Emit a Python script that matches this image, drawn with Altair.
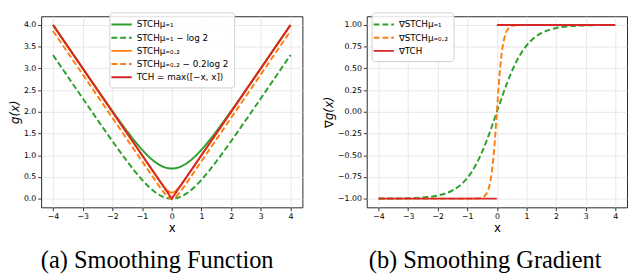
import altair as alt
import pandas as pd

# ---- data ----
x_mu1 = [-4, -3.5, -3, -2.5, -2, -1.5, -1.25, -1, -0.75, -0.5, -0.25, 0,
         0.25, 0.5, 0.75, 1, 1.25, 1.5, 2, 2.5, 3, 3.5, 4]
g_mu1 = [4.0003, 3.5009, 3.0025, 2.5067, 2.0181, 1.5486, 1.3289, 1.1269, 0.9514, 0.8133, 0.7241, 0.6931,
         0.7241, 0.8133, 0.9514, 1.1269, 1.3289, 1.5486, 2.0181, 2.5067, 3.0025, 3.5009, 4.0003]
g_mu1_shift = [3.3072, 2.8078, 2.3094, 1.8136, 1.3250, 0.8555, 0.6358, 0.4338, 0.2583, 0.1202, 0.0310, 0.0,
               0.0310, 0.1202, 0.2583, 0.4338, 0.6358, 0.8555, 1.3250, 1.8136, 2.3094, 2.8078, 3.3072]
d_mu1 = [-0.9993, -0.9982, -0.9951, -0.9866, -0.9640, -0.9051, -0.8483, -0.7616, -0.6351, -0.4621, -0.2449, 0.0,
         0.2449, 0.4621, 0.6351, 0.7616, 0.8483, 0.9051, 0.9640, 0.9866, 0.9951, 0.9982, 0.9993]

x_mu02 = [-4, -3, -2, -1, -0.6, -0.5, -0.4, -0.3, -0.2, -0.15, -0.1, -0.05, 0,
          0.05, 0.1, 0.15, 0.2, 0.3, 0.4, 0.5, 0.6, 1, 2, 3, 4]
g_mu02 = [4.0, 3.0, 2.0, 1.0, 0.6005, 0.5013, 0.4036, 0.3097, 0.2254, 0.1903, 0.1627, 0.1448, 0.1386,
          0.1448, 0.1627, 0.1903, 0.2254, 0.3097, 0.4036, 0.5013, 0.6005, 1.0, 2.0, 3.0, 4.0]
g_mu02_shift = [3.8614, 2.8614, 1.8614, 0.8614, 0.4619, 0.3627, 0.2650, 0.1711, 0.0868, 0.0517, 0.0241, 0.0062, 0.0,
                0.0062, 0.0241, 0.0517, 0.0868, 0.1711, 0.2650, 0.3627, 0.4619, 0.8614, 1.8614, 2.8614, 3.8614]
d_mu02 = [-1.0, -1.0, -1.0, -0.9999, -0.9951, -0.9866, -0.9640, -0.9051, -0.7616, -0.6351, -0.4621, -0.2449, 0.0,
          0.2449, 0.4621, 0.6351, 0.7616, 0.9051, 0.9640, 0.9866, 0.9951, 0.9999, 1.0, 1.0, 1.0]

x_tch = [-4, 0, 4]
g_tch = [4.0, 0.0, 4.0]

x_dtch = [-4, 0, 0, 4]
d_tch = [-1.0, -1.0, 1.0, 1.0]
seg_dtch = ["a", "a", "b", "b"]

left_labels = ["STCHμ₌₁", "STCHμ₌₁ − log 2", "STCHμ₌₀.₂", "STCHμ₌₀.₂ − 0.2log 2", "TCH = max([−x, x])"]
right_labels = ["∇STCHμ₌₁", "∇STCHμ₌₀.₂", "∇TCH"]
x_ticks = [-4, -3, -2, -1, 0, 1, 2, 3, 4]
g_ticks = [0.0, 0.5, 1.0, 1.5, 2.0, 2.5, 3.0, 3.5, 4.0]
d_ticks = [-1.0, -0.75, -0.5, -0.25, 0.0, 0.25, 0.5, 0.75, 1.0]
captions = ["(a) Smoothing Function", "(b) Smoothing Gradient"]

GREEN, ORANGE, RED = "#2ca02c", "#ff7f0e", "#d62728"
SOLID, DASH = [1, 0], [6, 3]

# ---- tables ----
def frame(xs, ys, label, seg=None):
    df = pd.DataFrame({"x": xs, "y": ys, "series": label})
    df["seg"] = seg if seg is not None else "a"
    return df

left_df = pd.concat([
    frame(x_mu1, g_mu1, left_labels[0]),
    frame(x_mu1, g_mu1_shift, left_labels[1]),
    frame(x_mu02, g_mu02, left_labels[2]),
    frame(x_mu02, g_mu02_shift, left_labels[3]),
    frame(x_tch, g_tch, left_labels[4]),
], ignore_index=True)

right_df = pd.concat([
    frame(x_mu1, d_mu1, right_labels[0]),
    frame(x_mu02, d_mu02, right_labels[1]),
    frame(x_dtch, d_tch, right_labels[2], seg_dtch),
], ignore_index=True)

xscale = alt.Scale(domain=[-4.4, 4.4], nice=False, zero=False)
xaxis = alt.Axis(values=x_ticks, format="d", title="x", titleFontStyle="normal")


def legend(x, y):
    return alt.Legend(title=None, orient="none", legendX=x, legendY=y,
                      symbolType="M-1.6,0H1.6", symbolSize=169, symbolStrokeWidth=2,
                      labelFont="DejaVu Sans", labelFontSize=9, labelColor="black",
                      labelLimit=300, labelOffset=8, rowPadding=0.5, padding=5,
                      strokeColor="#d0d0d0", fillColor="rgba(255,255,255,0.85)",
                      cornerRadius=3)


def panel(df, labels, colors, dashes, interps, ydom, yticks, yfmt, ytitle, leg, w, h, caption, dx):
    layers = []
    for lab, interp in zip(labels, interps):
        layers.append(
            alt.Chart(df).transform_filter(alt.FieldEqualPredicate(field="series", equal=lab))
            .mark_line(strokeWidth=2, interpolate=interp, clip=True)
            .encode(
                x=alt.X("x:Q", scale=xscale, axis=xaxis),
                y=alt.Y("y:Q", scale=alt.Scale(domain=ydom, nice=False, zero=False),
                        axis=alt.Axis(values=yticks, format=yfmt, title=ytitle, titleFontStyle="italic")),
                color=alt.Color("series:N", scale=alt.Scale(domain=labels, range=colors), legend=leg),
                strokeDash=alt.StrokeDash("series:N", scale=alt.Scale(domain=labels, range=dashes), legend=leg),
                detail="seg:N",
            )
        )
    return alt.layer(*layers).properties(
        width=w, height=h,
        title=alt.Title(caption, dx=dx),
    )


left = panel(left_df, left_labels,
             [GREEN, GREEN, ORANGE, ORANGE, RED],
             [SOLID, DASH, SOLID, DASH, SOLID],
             ["monotone", "monotone", "monotone", "monotone", "linear"],
             [-0.2, 4.2], g_ticks, ".1f", "g(x)", legend(70, -4), 268, 196, captions[0], -15)

right = panel(right_df, right_labels,
              [GREEN, ORANGE, RED],
              [DASH, DASH, SOLID],
              ["monotone", "monotone", "linear"],
              [-1.1, 1.1], d_ticks, ".2f", "∇g(x)", legend(5, -4), 267, 196, captions[1], -12)

chart = alt.hconcat(left, right, spacing=19).resolve_scale(
    color="independent", strokeDash="independent", y="independent"
).resolve_legend(color="independent", strokeDash="independent").properties(
    padding={"left": 0, "top": 0, "right": 0, "bottom": 0}
).configure_axis(
    labelFont="DejaVu Sans", labelFontSize=8, labelColor="black", labelPadding=2,
    tickColor="black", tickSize=3.5, tickWidth=0.8,
    domain=False, grid=True, gridColor="#e2e2e2", gridWidth=0.8,
    titleFont="DejaVu Sans", titleFontSize=12, titleFontWeight="normal", titleColor="black",
    titlePadding=2,
).configure_view(
    stroke="#262626", strokeWidth=1
).configure_title(
    font="Liberation Serif", fontSize=25, fontWeight="normal", color="black",
    orient="bottom", anchor="middle", offset=16,
)

chart.save("out.html", embed_options={"renderer": "svg", "actions": False})
